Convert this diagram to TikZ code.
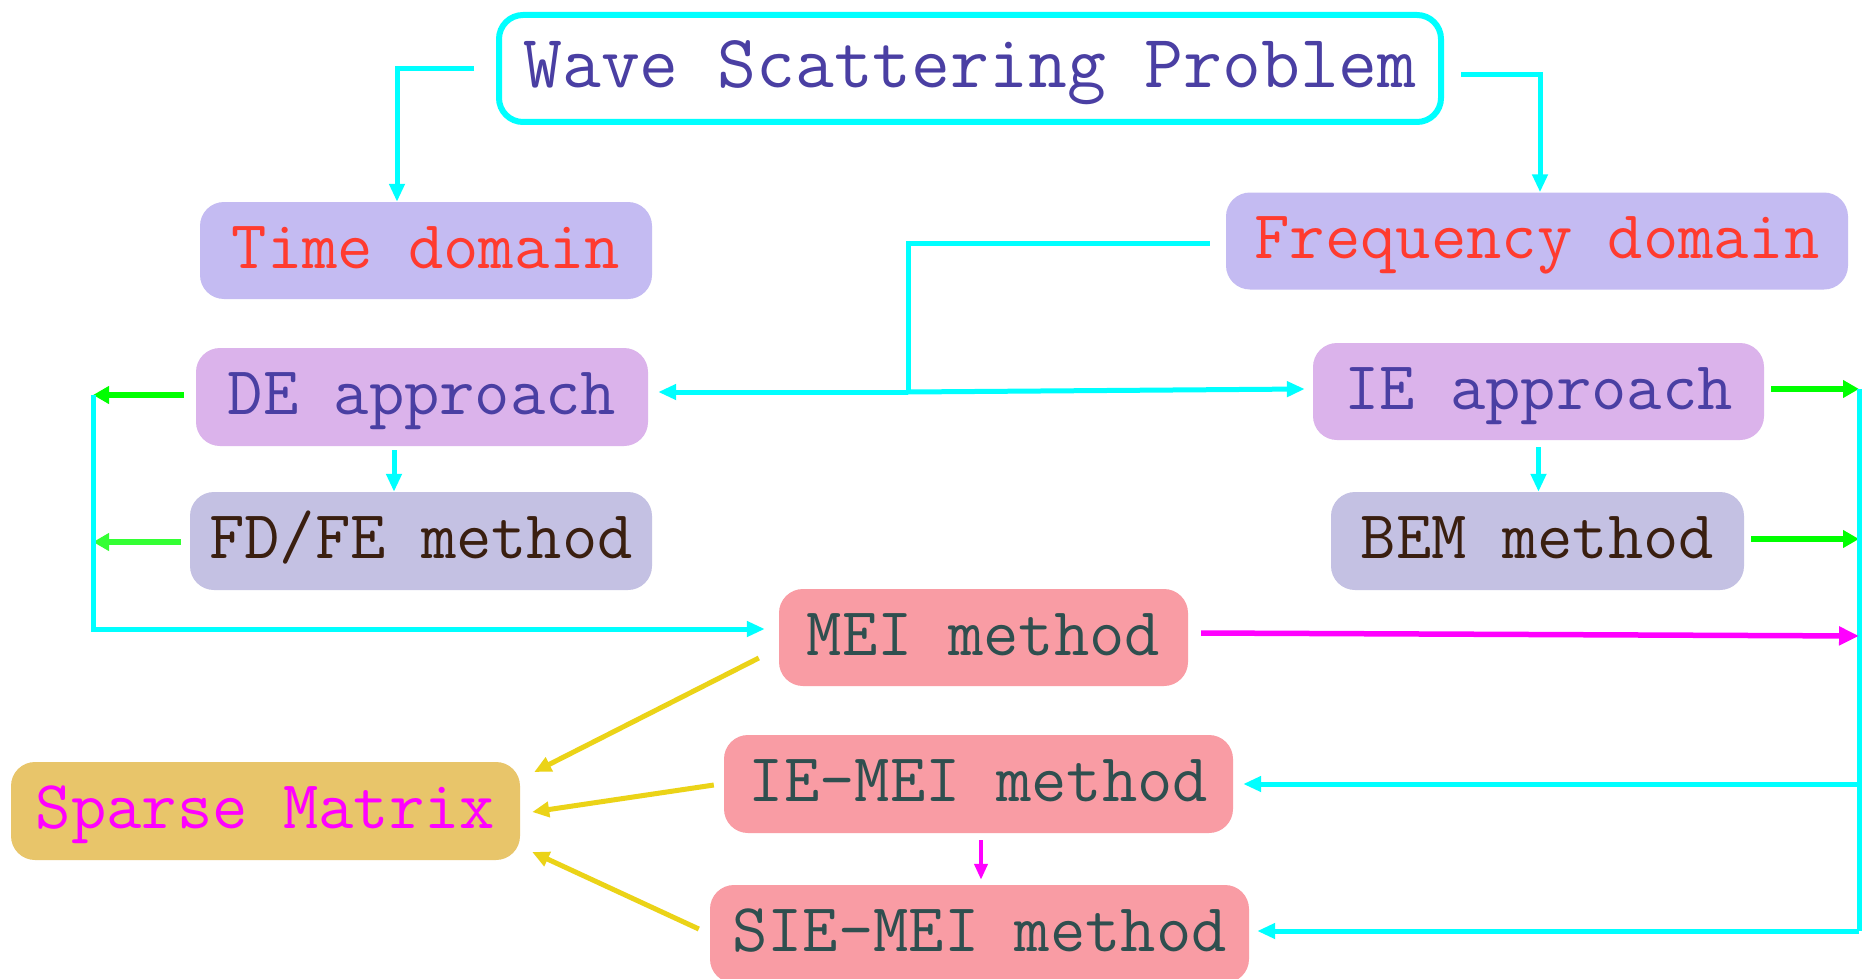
\documentclass[tikz,border=0pt]{standalone}
\usepackage{fontspec}
\usetikzlibrary{arrows.meta}
\definecolor{cyc}{HTML}{00FFFF}
\definecolor{grc}{HTML}{00FF00}
\definecolor{grc2}{HTML}{33FF33}
\definecolor{mgc}{HTML}{FF00FF}
\definecolor{ylc}{HTML}{EBD317}
\definecolor{wavetxt}{HTML}{4A3FA3}
\definecolor{domfill}{HTML}{C4BBF2}
\definecolor{domtxt}{HTML}{FF3B2F}
\definecolor{appfill}{HTML}{DBB3EB}
\definecolor{methfill}{HTML}{C4C1E3}
\definecolor{methtxt}{HTML}{3A1F10}
\definecolor{meifill}{HTML}{F99CA4}
\definecolor{meitxt}{HTML}{2F4F4F}
\definecolor{spfill}{HTML}{E8C56A}
\tikzset{
  basebox/.style={rounded corners=24pt, inner sep=0pt, minimum height=97pt,
    font=\ttfamily\fontsize{68.6}{68.6}\selectfont, text height=42pt, text depth=7pt},
  hdr/.style={draw=cyc, line width=6pt, fill=white, rounded corners=24pt, inner sep=0pt,
    minimum width=942pt, minimum height=107pt, text=wavetxt,
    font=\ttfamily\fontsize{75.4}{75.4}\selectfont, text height=46pt, text depth=8pt},
  dom/.style={basebox, fill=domfill, text=domtxt},
  app/.style={basebox, fill=appfill, text=wavetxt},
  meth/.style={basebox, fill=methfill, text=methtxt},
  meibox/.style={basebox, fill=meifill, text=meitxt},
  spbox/.style={basebox, fill=spfill, text=mgc},
  cyplain/.style={draw=cyc, line width=5pt},
  cyline/.style={cyplain, -{Triangle[length=18pt,width=15pt]}},
  grline/.style={draw=grc, line width=6pt, -{Triangle[length=16pt,width=17pt]}},
  grline2/.style={draw=grc2, line width=6pt, -{Triangle[length=16pt,width=17pt]}},
  mgline/.style={draw=mgc, line width=5.5pt, -{Triangle[length=20pt,width=18pt]}},
  mgsmall/.style={draw=mgc, line width=4pt, -{Triangle[length=16pt,width=13pt]}},
  yline/.style={draw=ylc, line width=5pt, -{Triangle[length=17pt,width=15pt]}}
}
\begin{document}
\begin{tikzpicture}[x=1pt,y=-1pt]
\useasboundingbox (0,0) rectangle (1865,979);
\clip (0,0) rectangle (1865,979);
\fill[white] (0,0) rectangle (1865,979);

\node[hdr] (wave) at (970,68.5) {Wave Scattering Problem};
\node[dom, minimum width=452pt] (time) at (426,250.5) {Time domain};
\node[dom, minimum width=622pt] (freq) at (1537,241) {Frequency domain};
\node[app, minimum width=452pt, minimum height=98pt] (de) at (422,397) {DE approach};
\node[app, minimum width=451pt] (ie) at (1538.5,391.5) {IE approach};
\node[meth, minimum width=462pt, minimum height=98pt] (fdfe) at (421,541) {FD/FE method};
\node[meth, minimum width=413pt, minimum height=98pt] (bem) at (1537.5,541) {BEM method};
\node[meibox, minimum width=409pt] (mei) at (983.5,637.5) {MEI method};
\node[meibox, minimum width=509pt, minimum height=98pt] (iemei) at (978.5,784) {IE-MEI method};
\node[meibox, minimum width=539pt, minimum height=98pt] (siemei) at (979.5,934) {SIE-MEI method};
\node[spbox, minimum width=509pt, minimum height=98pt] (sparse) at (265.5,811) {Sparse Matrix};

% top connectors
\draw[cyline] ([xshift=-22pt]wave.west) -| ([xshift=-29pt]time.north);
\draw[cyline] ([xshift=17pt,yshift=-6.5pt]wave.east) -| ([xshift=3pt]freq.north);

% frequency domain split
\coordinate (j) at (908,392);
\draw[cyplain] ([xshift=-16pt,yshift=-2pt]freq.west) -| (j);
\draw[cyline] (j) -- ([xshift=10pt,yshift=5pt]de.east);
\draw[cyline] (j) -- ([xshift=-8pt,yshift=2.5pt]ie.west);

% approach -> method
\draw[cyline] ([xshift=-28pt,yshift=-4pt]de.south) -- ([xshift=-28pt]de.south |- fdfe.north);
\draw[cyline] ([yshift=-7pt]ie.south) -- (ie.south |- bem.north);

% left bus
\coordinate (lt) at (93,395);
\coordinate (lm) at (93,542);
\draw[grline] ([xshift=-12pt,yshift=2pt]de.west) -- (lt);
\draw[grline2] ([xshift=-9pt,yshift=-1pt]fdfe.west) -- (lm);
\draw[cyline] (lt) |- ([xshift=-14pt,yshift=8.5pt]mei.west);

% right bus
\coordinate (rt) at (1859,389);
\coordinate (rbem) at (1859,539);
\coordinate (rmg) at (1859,636);
\coordinate (rb) at (1859,931);
\draw[grline] ([xshift=7pt,yshift=2.5pt]ie.east) -- (rt);
\draw[grline] ([xshift=7pt,yshift=2pt]bem.east) -- (rbem);
\draw[cyplain] (rt) -- (rb);
\draw[cyline] (rb) -- ([xshift=8pt,yshift=3pt]siemei.east);
\draw[cyline] (rt |- iemei.east) -- ([xshift=10pt]iemei.east);

% magenta
\draw[mgline] ([xshift=13pt,yshift=4.5pt]mei.east) -- (rmg);
\draw[mgsmall] ([xshift=2.5pt,yshift=-7pt]iemei.south) -- ([xshift=1.5pt,yshift=5pt]siemei.north);

% yellow to sparse matrix
\draw[yline] ([xshift=-20pt,yshift=-20.5pt]mei.west) -- ([xshift=14pt,yshift=39pt]sparse.east);
\draw[yline] ([xshift=-10pt,yshift=-1pt]iemei.west) -- ([xshift=12pt,yshift=-1pt]sparse.east);
\draw[yline] ([xshift=-11pt,yshift=5pt]siemei.west) -- ([xshift=12pt,yshift=-41pt]sparse.east);
\end{tikzpicture}
\end{document}
